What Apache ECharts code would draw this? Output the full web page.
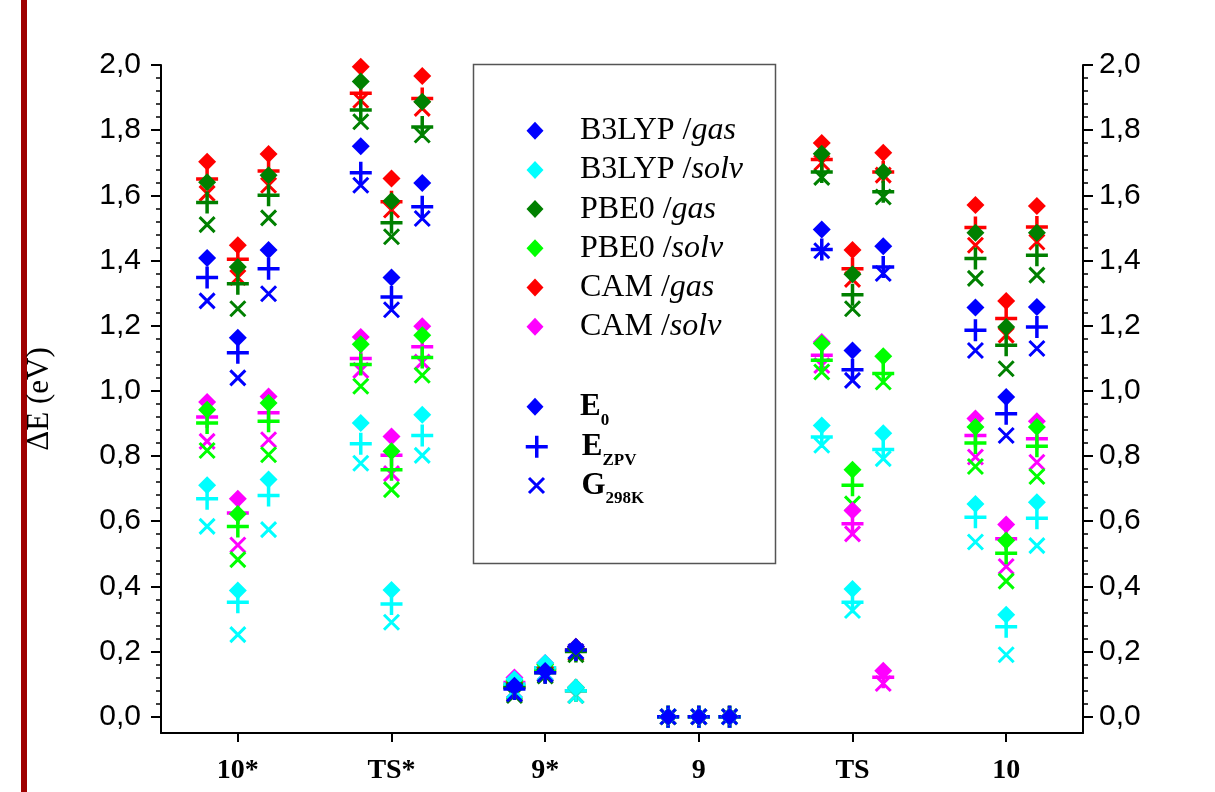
<!DOCTYPE html>
<html>
<head>
<meta charset="utf-8">
<script src="https://cdn.jsdelivr.net/npm/echarts@6/dist/echarts.min.js"></script>
<style>html,body{margin:0;padding:0;background:#fff;}#c{width:1215px;height:792px;}</style>
</head>
<body>
<div id="c"></div>
<script>
// ---------- data ----------
const categories = ['10*', 'TS*', '9*', '9', 'TS', '10'];
const subOffsets = [-0.2, 0, 0.2];           // three structures per category
const yMajorTicks = [0, 0.2, 0.4, 0.6, 0.8, 1.0, 1.2, 1.4, 1.6, 1.8, 2.0];
const minorPerMajor = 4;

// values ordered: 10*(l,c,r), TS*(l,c,r), 9*(l,c,r), 9(l,c,r), TS(l,c,r), 10(l,c,r)
const b3lypGasE0   = [1.408, 1.163, 1.432, 1.751, 1.348, 1.638, 0.095, 0.140, 0.215, 0, 0, 0, 1.495, 1.124, 1.444, 1.256, 0.981, 1.257];
const b3lypGasZPV  = [1.348, 1.117, 1.375, 1.669, 1.288, 1.565, 0.085, 0.135, 0.205, 0, 0, 0, 1.434, 1.065, 1.380, 1.186, 0.930, 1.196];
const b3lypGasG    = [1.276, 1.040, 1.298, 1.631, 1.249, 1.529, 0.070, 0.130, 0.200, 0, 0, 0, 1.430, 1.032, 1.360, 1.124, 0.863, 1.130];

const b3lypSolvE0  = [0.710, 0.387, 0.728, 0.901, 0.389, 0.927, 0.115, 0.165, 0.090, 0, 0, 0, 0.894, 0.392, 0.870, 0.653, 0.313, 0.658];
const b3lypSolvZPV = [0.669, 0.351, 0.679, 0.838, 0.346, 0.863, 0.100, 0.150, 0.080, 0, 0, 0, 0.858, 0.351, 0.820, 0.612, 0.276, 0.609];
const b3lypSolvG   = [0.584, 0.252, 0.574, 0.778, 0.290, 0.802, 0.080, 0.135, 0.065, 0, 0, 0, 0.833, 0.326, 0.792, 0.536, 0.190, 0.525];

const pbe0GasE0    = [1.640, 1.380, 1.662, 1.949, 1.583, 1.887, 0.100, 0.145, 0.210, 0, 0, 0, 1.728, 1.358, 1.672, 1.485, 1.196, 1.485];
const pbe0GasZPV   = [1.578, 1.329, 1.600, 1.862, 1.516, 1.810, 0.090, 0.135, 0.200, 0, 0, 0, 1.672, 1.295, 1.611, 1.406, 1.140, 1.416];
const pbe0GasG     = [1.510, 1.252, 1.531, 1.826, 1.473, 1.785, 0.065, 0.125, 0.190, 0, 0, 0, 1.655, 1.252, 1.595, 1.345, 1.068, 1.355];

const pbe0SolvE0   = [0.942, 0.622, 0.963, 1.143, 0.815, 1.171, 0.110, 0.160, 0.090, 0, 0, 0, 1.145, 0.758, 1.106, 0.889, 0.541, 0.889];
const pbe0SolvZPV  = [0.901, 0.584, 0.907, 1.081, 0.758, 1.102, 0.095, 0.145, 0.080, 0, 0, 0, 1.094, 0.710, 1.053, 0.840, 0.502, 0.830];
const pbe0SolvG    = [0.817, 0.482, 0.804, 1.014, 0.697, 1.048, 0.075, 0.130, 0.065, 0, 0, 0, 1.058, 0.653, 1.027, 0.768, 0.416, 0.737];

const camGasE0     = [1.703, 1.447, 1.727, 1.995, 1.652, 1.966, 0.105, 0.150, 0.215, 0, 0, 0, 1.761, 1.432, 1.731, 1.570, 1.276, 1.567];
const camGasZPV    = [1.650, 1.404, 1.675, 1.913, 1.580, 1.897, 0.090, 0.140, 0.205, 0, 0, 0, 1.710, 1.375, 1.672, 1.501, 1.222, 1.503];
const camGasG      = [1.606, 1.348, 1.631, 1.892, 1.555, 1.867, 0.070, 0.130, 0.195, 0, 0, 0, 1.700, 1.342, 1.662, 1.447, 1.171, 1.457];

const camSolvE0    = [0.966, 0.669, 0.983, 1.165, 0.860, 1.198, 0.120, 0.165, 0.090, 0, 0, 0, 1.150, 0.633, 0.141, 0.915, 0.590, 0.907];
const camSolvZPV   = [0.920, 0.625, 0.933, 1.099, 0.802, 1.135, 0.105, 0.150, 0.080, 0, 0, 0, 1.109, 0.592, 0.121, 0.863, 0.546, 0.853];
const camSolvG     = [0.845, 0.527, 0.850, 1.063, 0.746, 1.088, 0.080, 0.135, 0.065, 0, 0, 0, 1.078, 0.561, 0.102, 0.797, 0.461, 0.781];

const methodNames = ['B3LYP /gas', 'B3LYP /solv', 'PBE0 /gas', 'PBE0 /solv', 'CAM /gas', 'CAM /solv'];
const energyNames = ['E0', 'EZPV', 'G298K'];

// ---------- styling ----------
const methods = [
  {name: 'B3LYP /gas',  color: '#0000ff', vals: [b3lypGasE0, b3lypGasZPV, b3lypGasG]},
  {name: 'B3LYP /solv', color: '#00ffff', vals: [b3lypSolvE0, b3lypSolvZPV, b3lypSolvG]},
  {name: 'PBE0 /gas',   color: '#008000', vals: [pbe0GasE0, pbe0GasZPV, pbe0GasG]},
  {name: 'PBE0 /solv',  color: '#00ff00', vals: [pbe0SolvE0, pbe0SolvZPV, pbe0SolvG]},
  {name: 'CAM /gas',    color: '#ff0000', vals: [camGasE0, camGasZPV, camGasG]},
  {name: 'CAM /solv',   color: '#ff00ff', vals: [camSolvE0, camSolvZPV, camSolvG]}
];
const plusPath = 'path://M10,0L10,20M0,10L20,10';
const crossPath = 'path://M0,0L20,20M20,0L0,20';
const kinds = [
  {symbol: 'diamond', size: 18, bw: 0, lw: 17, lh: 18},
  {symbol: plusPath, size: 22, bw: 3.5, lw: 22, lh: 22},
  {symbol: crossPath, size: 15, bw: 3, lw: 15, lh: 15}
];

function toPoints(arr) {
  return arr.map((v, i) => [Math.floor(i / 3) + 1 + subOffsets[i % 3], v]);
}

const series = [];
// draw order: G, then ZPV, then E0; within each: CAM solv ... B3LYP gas
[2, 1, 0].forEach(k => {
  methods.slice().reverse().forEach(m => {
    series.push({
      type: 'scatter', name: m.name, xAxisIndex: 1, yAxisIndex: 0,
      data: toPoints(m.vals[k]),
      symbol: kinds[k].symbol, symbolSize: kinds[k].size,
      itemStyle: {color: m.color, borderColor: m.color, borderWidth: kinds[k].bw, opacity: 1},
      silent: true, animation: false
    });
  });
});
// legend-only series for the energy kinds
energyNames.forEach((n, k) => {
  series.push({
    type: 'scatter', name: n, xAxisIndex: 1, yAxisIndex: 0, data: [],
    symbol: kinds[k].symbol, symbolSize: kinds[k].size,
    itemStyle: {color: '#0000ff', borderColor: '#0000ff', borderWidth: kinds[k].bw, opacity: 1},
    silent: true, animation: false
  });
});

const yMinorTicks = [];
for (let i = 0; i < yMajorTicks.length - 1; i++) {
  const step = (yMajorTicks[i + 1] - yMajorTicks[i]) / (minorPerMajor + 1);
  for (let j = 1; j <= minorPerMajor; j++) yMinorTicks.push(+(yMajorTicks[i] + j * step).toFixed(4));
}

const axisColor = '#000';
const labelFmt = v => v.toFixed(1).replace('.', ',');
function yAxisMain(pos, extra) {
  return Object.assign({
    type: 'value', position: pos, min: -0.05, max: 2.0, gridIndex: 0,
    axisLine: {show: true, onZero: false, lineStyle: {color: axisColor, width: 2}},
    axisTick: {show: true, length: 10, customValues: yMajorTicks, lineStyle: {color: axisColor, width: 2}},
    axisLabel: {customValues: yMajorTicks, formatter: labelFmt, fontFamily: 'Liberation Sans', fontSize: 30, color: '#000', margin: pos === 'left' ? 20 : 16},
    splitLine: {show: false}
  }, extra || {});
}
function yAxisMinor(pos) {
  return {
    type: 'value', position: pos, min: -0.05, max: 2.0, gridIndex: 0,
    axisLine: {show: false},
    axisTick: {show: true, length: 5, customValues: yMinorTicks, lineStyle: {color: axisColor, width: 1.5}},
    axisLabel: {show: false},
    splitLine: {show: false}
  };
}

// legend layout: icon centred at x=535, text starting at x=580
const iconCenterX = 535, textStartX = 580;
function gapWidth(w) { return textStartX - (iconCenterX - w / 2 + w + 5); }

function serifRich(gap) {
  return {
    g: {width: gap, fontSize: 30, lineHeight: 30},
    n: {fontFamily: 'Liberation Serif', fontSize: 32, lineHeight: 30, color: '#000'},
    i: {fontFamily: 'Liberation Serif', fontSize: 32, lineHeight: 30, fontStyle: 'italic', color: '#000'}
  };
}
function subRich(gap) {
  return {
    g: {width: gap, fontSize: 30, lineHeight: 30},
    E: {fontFamily: 'Liberation Serif', fontSize: 31, lineHeight: 30, fontWeight: 'bold', color: '#000'},
    s: {fontFamily: 'Liberation Serif', fontSize: 17, lineHeight: 17, fontWeight: 'bold', color: '#000', padding: [27, 0, 0, 0]}
  };
}
const energyLabel = {E0: '{E|E}{s|0}', EZPV: '{E|E}{s|ZPV}', G298K: '{E|G}{s|298K}'};
const energyLegendCenters = [406.7, 446.7, 485.5];

const legends = [{
  orient: 'vertical', padding: 0, selectedMode: false,
  left: iconCenterX - kinds[0].lw / 2, top: 130.7 - 16,
  itemWidth: kinds[0].lw, itemHeight: kinds[0].lh, itemGap: 7.2,
  data: methodNames.map(n => ({name: n, icon: 'diamond', itemStyle: {borderWidth: 0, opacity: 1}})),
  formatter: n => { const p = n.split('/'); return '{g| }{n|' + p[0] + '/}{i|' + p[1] + '}'; },
  textStyle: {rich: serifRich(gapWidth(kinds[0].lw))}
}];
energyNames.forEach((n, k) => {
  legends.push({
    orient: 'vertical', padding: 0, selectedMode: false,
    left: iconCenterX - kinds[k].lw / 2, top: energyLegendCenters[k] - 22,
    itemWidth: kinds[k].lw, itemHeight: kinds[k].lh,
    data: [{name: n, icon: kinds[k].symbol,
            itemStyle: {color: '#0000ff', borderColor: '#0000ff', borderWidth: kinds[k].bw, opacity: 1}}],
    formatter: nm => '{g| }' + energyLabel[nm],
    textStyle: {rich: subRich(gapWidth(kinds[k].lw))}
  });
});

const option = {
  animation: false,
  backgroundColor: '#ffffff',
  grid: {left: 161, right: 132, top: 65, bottom: 59, containLabel: false, outerBoundsMode: 'none'},
  xAxis: [
    {
      type: 'category', data: categories, position: 'bottom', gridIndex: 0,
      axisLine: {show: true, onZero: false, lineStyle: {color: axisColor, width: 2}},
      axisTick: {show: true, alignWithLabel: true, length: 9, lineStyle: {color: axisColor, width: 2}},
      axisLabel: {fontFamily: 'Liberation Serif', fontWeight: 'bold', fontSize: 28, color: '#000', margin: 24},
      splitLine: {show: false}
    },
    {type: 'value', min: 0.5, max: 6.5, show: false, gridIndex: 0, position: 'bottom'}
  ],
  yAxis: [
    yAxisMain('left', {
      name: 'ΔE (eV)', nameLocation: 'middle', nameGap: 106, nameRotate: 90,
      nameTextStyle: {fontFamily: 'Liberation Serif', fontSize: 31, color: '#000'}
    }),
    yAxisMain('right'),
    yAxisMinor('left'),
    yAxisMinor('right')
  ],
  legend: legends,
  graphic: [
    {type: 'rect', left: 21, top: 0, shape: {width: 6, height: 792}, style: {fill: '#9e0000'}, silent: true},
    {type: 'rect', left: 471, top: 62, shape: {width: 302, height: 499}, style: {fill: 'none', stroke: '#555', lineWidth: 1.5}, silent: true, z: -1}
  ],
  series: series
};

const chart = echarts.init(document.getElementById('c'), null, {renderer: 'canvas'});
chart.setOption(option);
</script>
</body>
</html>
